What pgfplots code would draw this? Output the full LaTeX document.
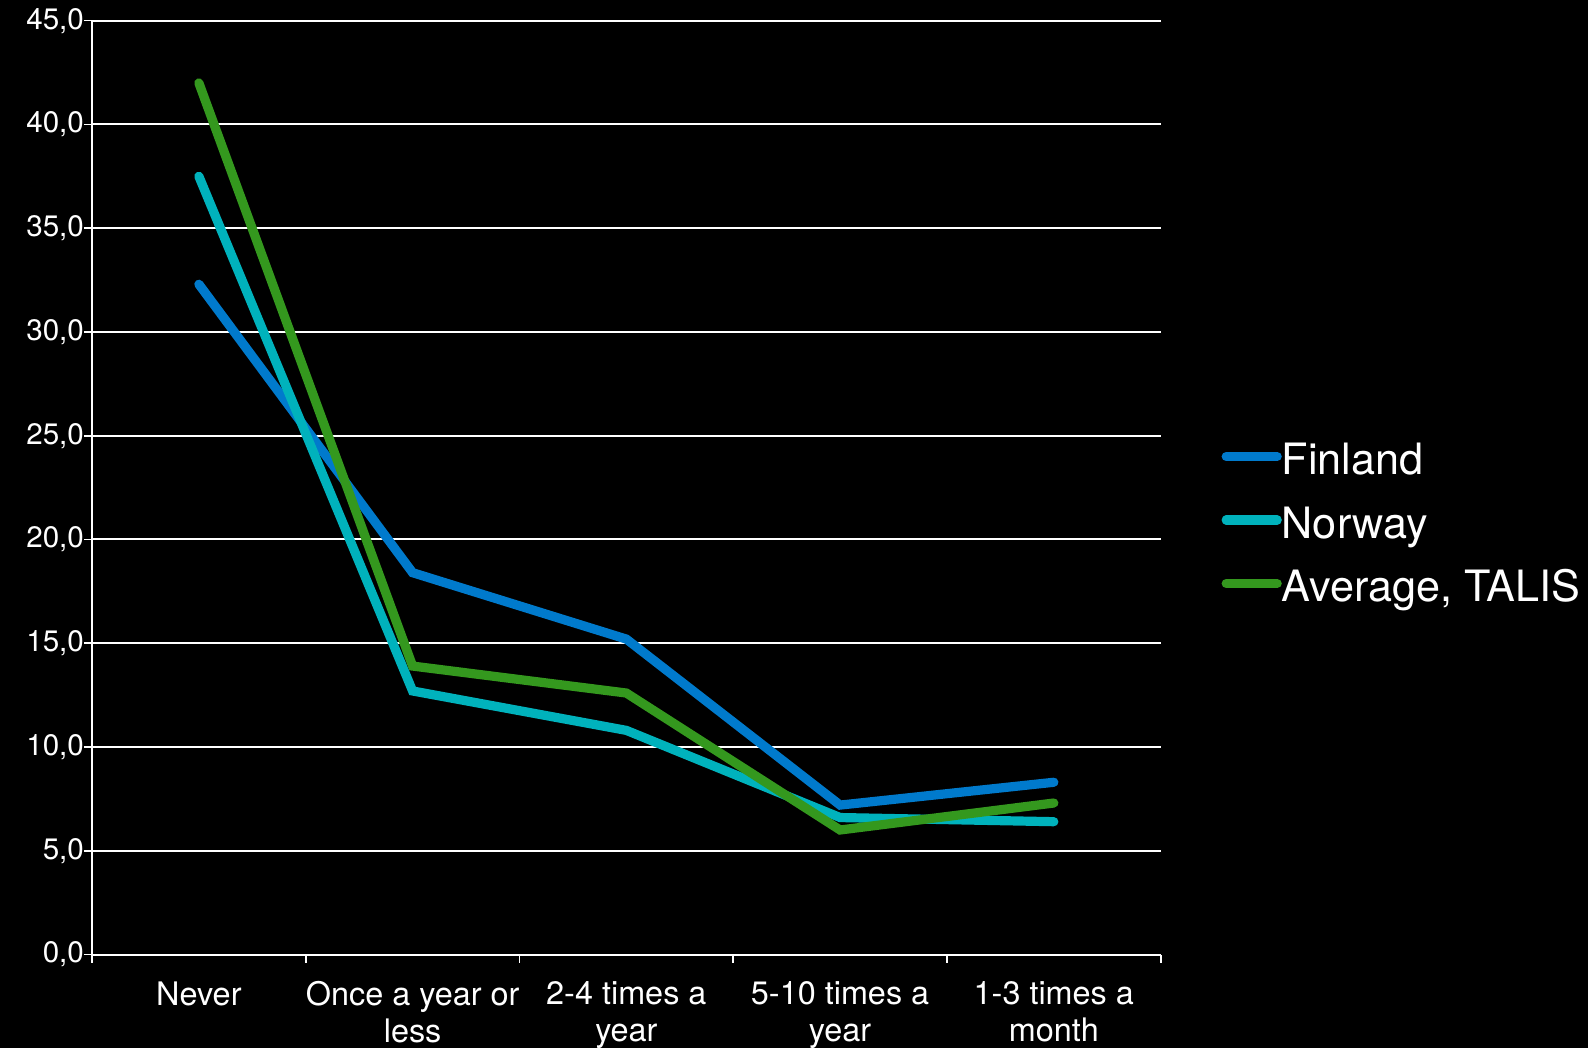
\documentclass[border=0pt]{standalone}
\usepackage{pgfplots}
\pgfplotsset{compat=1.18}
\usepackage{fontspec}
\setmainfont{TeX Gyre Heros}
\definecolor{finblue}{RGB}{0,122,204}
\definecolor{norcyan}{RGB}{0,178,188}
\definecolor{talisgreen}{RGB}{52,152,30}
\begin{document}
\begin{tikzpicture}
\fill[black] (0,0) rectangle (794pt,524pt);
\useasboundingbox (0,0) rectangle (794pt,524pt);
\begin{axis}[
  at={(46pt,46.75pt)}, anchor=south west,
  width=534.35pt, height=466.9pt, scale only axis,
  xmin=0, xmax=5, ymin=0, ymax=45,
  axis x line=bottom, axis y line=left,
  axis line style={white, line width=0.8pt, -},
  xtick={0,1,2,3,4,5}, xticklabels={},
  ytick={0,5,...,45},
  tick align=outside,
  major tick length=4pt,
  tick style={white, line width=0.8pt},
  ymajorgrids, grid style={white, line width=1pt},
  extra x ticks={0.5,1.5,2.5,3.5,4.5},
  extra x tick labels={Never, {Once a year or\\less}, {2-4 times a\\year}, {5-10 times a\\year}, {1-3 times a\\month}},
  extra x tick style={grid=none, major tick length=0pt},
  xticklabel style={font=\fontsize{16.2}{18.5}\selectfont, text=white, align=center, anchor=north, yshift=-10pt},
  yticklabel style={font=\fontsize{14.8}{16}\selectfont, text=white, xshift=3.5pt, /pgf/number format/.cd, fixed, fixed zerofill, precision=1, use comma},
  /pgf/number format/assume math mode=true,
  legend style={at={(1.0566,0.5487)}, anchor=north west, draw=none, fill=none, text=white,
    font=\fontsize{21.6}{25}\selectfont, row sep=10.75pt, inner sep=0pt,
    nodes={inner sep=0pt, text height=16pt, text depth=5pt}},
  legend cell align=left,
  legend image code/.code={\draw[#1, line cap=round] (0pt,3.5pt) -- (25.5pt,3.5pt);},
]
\addplot[finblue, line width=4.6pt, line cap=round] coordinates {(0.5,32.3)(1.5,18.4)(2.5,15.2)(3.5,7.2)(4.5,8.3)};
\addlegendentry{Finland}
\addplot[norcyan, line width=4.6pt, line cap=round] coordinates {(0.5,37.5)(1.5,12.7)(2.5,10.8)(3.5,6.6)(4.5,6.4)};
\addlegendentry{Norway}
\addplot[talisgreen, line width=4.6pt, line cap=round] coordinates {(0.5,42.0)(1.5,13.9)(2.5,12.6)(3.5,6.0)(4.5,7.3)};
\addlegendentry{Average, TALIS}
\end{axis}
\end{tikzpicture}
\end{document}
